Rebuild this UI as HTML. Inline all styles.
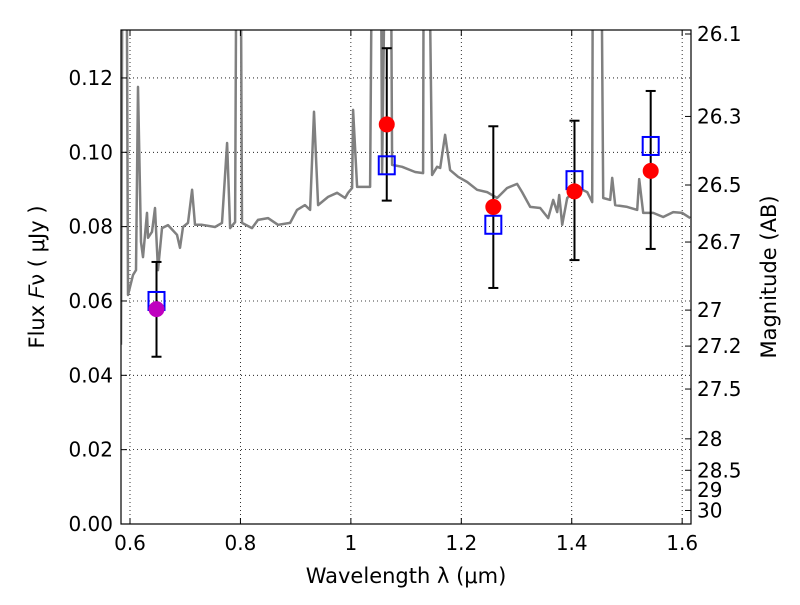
<!DOCTYPE html>
<html><head><meta charset="utf-8"><style>
body{margin:0;background:#fff}
svg text{font-family:"DejaVu Sans","Liberation Sans",sans-serif;fill:#000}
</style></head><body>
<svg id="chart" width="800" height="600" xmlns="http://www.w3.org/2000/svg">
<defs><clipPath id="clip"><rect x="121" y="30" width="570" height="494"/></clipPath></defs>
<g id="grid"></g>
<g id="plot" clip-path="url(#clip)"></g>
<g id="axes"></g>
</svg>
<script>
const specLam=[0.5837,0.5873,0.5928,0.5964,0.6054,0.6109,0.6145,0.6199,0.6236,0.6308,0.6326,0.6399,0.6453,0.6507,0.6580,0.6689,0.6852,0.6906,0.6960,0.7051,0.7124,0.7178,0.7305,0.7540,0.7667,0.7758,0.7812,0.7903,0.7939,0.7993,0.8029,0.8210,0.8319,0.8500,0.8681,0.8899,0.9025,0.9170,0.9261,0.9333,0.9406,0.9587,0.9750,0.9895,0.9950,1.0022,1.0040,1.0113,1.0348,1.0403,1.0530,1.0566,1.0657,1.0711,1.0747,1.0928,1.1163,1.1308,1.1326,1.1381,1.1471,1.1562,1.1617,1.1707,1.1798,1.1942,1.2106,1.2287,1.2468,1.2649,1.2830,1.3011,1.3102,1.3248,1.3429,1.3574,1.3664,1.3737,1.3773,1.3827,1.3918,1.4026,1.4190,1.4280,1.4371,1.4389,1.4516,1.4570,1.4697,1.4733,1.4787,1.5004,1.5186,1.5222,1.5294,1.5475,1.5656,1.5838,1.6001,1.6146];
const specFlux=[0.0482,0.2,0.2,0.0616,0.0670,0.0683,0.1176,0.0759,0.0718,0.0837,0.0770,0.0786,0.0850,0.0683,0.0796,0.0804,0.0778,0.0743,0.0799,0.0810,0.0899,0.0805,0.0805,0.0799,0.0810,0.1025,0.0796,0.0812,0.2,0.2,0.0810,0.0796,0.0818,0.0823,0.0805,0.0810,0.0845,0.0858,0.0845,0.1109,0.0858,0.0880,0.0891,0.0877,0.0891,0.0904,0.1114,0.0907,0.0907,0.2,0.2,0.0944,0.2,0.2,0.0966,0.0961,0.0947,0.0944,0.2,0.2,0.0939,0.0961,0.0958,0.1047,0.0952,0.0934,0.0920,0.0899,0.0893,0.0877,0.0904,0.0915,0.0893,0.0853,0.0850,0.0823,0.0872,0.0839,0.0885,0.0805,0.0877,0.0891,0.0899,0.0893,0.0866,0.2,0.2,0.0877,0.0872,0.0931,0.0858,0.0853,0.0845,0.0928,0.0837,0.0837,0.0826,0.0839,0.0837,0.0823];
const obsLam=[0.648,1.065,1.258,1.405,1.543];
const obsFlux=[0.0578,0.1075,0.0853,0.0895,0.0950];
const obsLo=[0.045,0.087,0.0635,0.071,0.074];
const obsHi=[0.0705,0.128,0.107,0.1085,0.1165];
const obsColors=['#bf00bf','red','red','red','red'];
const modelFlux=[0.060,0.0965,0.0805,0.0925,0.1017];
const xTicks=[0.6,0.8,1.0,1.2,1.4,1.6];
const xTickLabels=['0.6','0.8','1','1.2','1.4','1.6'];
const yTicks=[0,0.02,0.04,0.06,0.08,0.10,0.12];
const yTickLabels=['0.00','0.02','0.04','0.06','0.08','0.10','0.12'];
const magTicks=[26.1,26.3,26.5,26.7,27,27.2,27.5,28,28.5,29,30];
const magLabels=['26.1','26.3','26.5','26.7','27','27.2','27.5','28','28.5','29','30'];

const L=121,R=691,T=30,B=524,xmin=0.5837,xmax=1.616,ymin=0,ymax=0.1329;
const X=v=>L+(v-xmin)/(xmax-xmin)*(R-L);
const Y=v=>B-(v-ymin)/(ymax-ymin)*(B-T);
const NS='http://www.w3.org/2000/svg';
function mk(tag,attrs,parent,text){const e=document.createElementNS(NS,tag);for(const k in attrs)e.setAttribute(k,attrs[k]);if(text!==undefined)e.textContent=text;parent.appendChild(e);return e;}
const grid=document.getElementById('grid'),plot=document.getElementById('plot'),axes=document.getElementById('axes');

xTicks.forEach((t,i)=>{const x=X(t);
 const g=mk('line',{x1:x,x2:x,y1:T,y2:B,stroke:'#000','stroke-width':0.8,'stroke-dasharray':'1,3'},grid);
 
 mk('line',{x1:x,x2:x,y1:B,y2:B-6,stroke:'#000'},axes);mk('line',{x1:x,x2:x,y1:T,y2:T+6,stroke:'#000'},axes);
 const lb=mk('text',{x:x,y:B+26,'text-anchor':'middle','font-size':20},axes,xTickLabels[i]);
 });
yTicks.forEach((t,i)=>{const y=Y(t);
 const g=mk('line',{x1:L,x2:R,y1:y,y2:y,stroke:'#000','stroke-width':0.8,'stroke-dasharray':'1,3'},grid);
 
 mk('line',{x1:L,x2:L+6,y1:y,y2:y,stroke:'#000'},axes);
 const lb=mk('text',{x:L-8,y:y+7,'text-anchor':'end','font-size':20},axes,yTickLabels[i]);
 });
magTicks.forEach((m,i)=>{const y=Y(Math.pow(10,(23.9-m)/2.5));
 mk('line',{x1:R,x2:R-6,y1:y,y2:y,stroke:'#000'},axes);
 const lb=mk('text',{x:R+6,y:y+7,'font-size':20},axes,magLabels[i]);
 });

const pts=specLam.map((l,i)=>X(l).toFixed(1)+','+Y(specFlux[i]).toFixed(1)).join(' ');
const sp=mk('polyline',{points:pts,fill:'none',stroke:'#808080','stroke-width':2.5,'stroke-linejoin':'round'},plot);


obsLam.forEach((l,i)=>{const x=X(l);
 const eb=mk('g',{},plot);
 mk('line',{x1:x,x2:x,y1:Y(obsLo[i]),y2:Y(obsHi[i]),stroke:'#000','stroke-width':2},eb);
 mk('line',{x1:x-5,x2:x+5,y1:Y(obsLo[i]),y2:Y(obsLo[i]),stroke:'#000','stroke-width':2},eb);
 mk('line',{x1:x-5,x2:x+5,y1:Y(obsHi[i]),y2:Y(obsHi[i]),stroke:'#000','stroke-width':2},eb);
 const sq=mk('rect',{x:x-8,y:Y(modelFlux[i])-9,width:16,height:18,fill:'none',stroke:'#0000ff','stroke-width':2},plot);
 
 const c=mk('circle',{cx:x,cy:Y(obsFlux[i]),r:8,fill:obsColors[i]},plot);
 });

const fr=mk('rect',{x:L,y:T,width:R-L,height:B-T,fill:'none',stroke:'#000','stroke-width':1.2},axes);

const xl=mk('text',{x:406,y:583,'text-anchor':'middle','font-size':21},axes,'Wavelength  λ (μm)');

const yl=mk('text',{x:0,y:0,'text-anchor':'middle','font-size':21,transform:'translate(44,277) rotate(-90)'},axes,'Flux  𝐹ν  ( μJy )');

const rl=mk('text',{x:0,y:0,'text-anchor':'middle','font-size':21,transform:'translate(776,277) rotate(-90)'},axes,'Magnitude (AB)');

</script>
</body></html>
